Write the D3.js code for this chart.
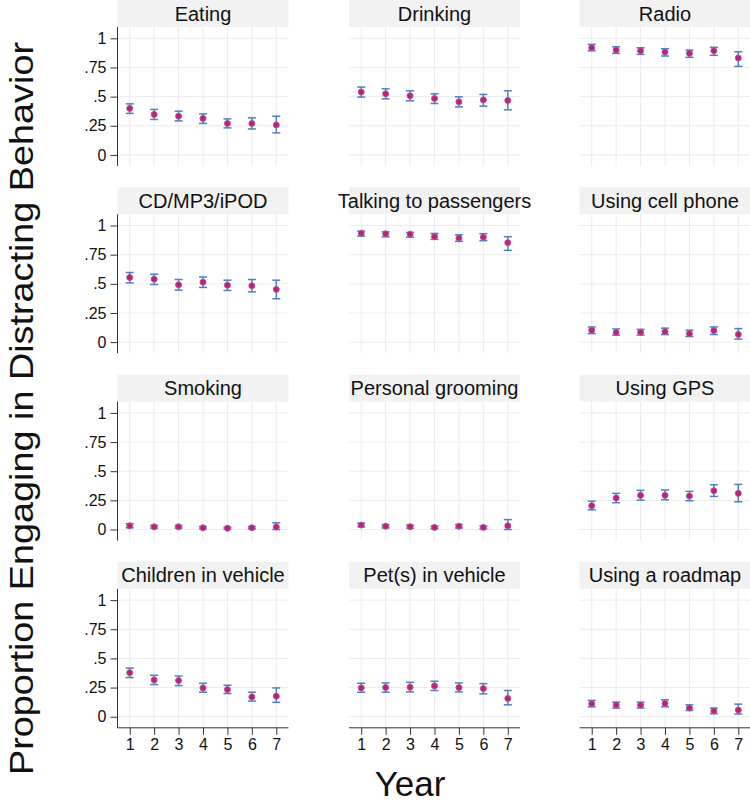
<!DOCTYPE html>
<html>
<head>
<meta charset="utf-8">
<script src="https://cdn.jsdelivr.net/npm/d3@7"></script>
<style>
  html, body { margin: 0; padding: 0; background: #fff; }
  svg { display: block; font-family: "Liberation Sans", Arial, Helvetica, sans-serif; }
</style>
</head>
<body>
<svg id="chart" width="750" height="804"></svg>
<script>
// ---- Data ----
const panels = ["Eating", "Drinking", "Radio",
                "CD/MP3/iPOD", "Talking to passengers", "Using cell phone",
                "Smoking", "Personal grooming", "Using GPS",
                "Children in vehicle", "Pet(s) in vehicle", "Using a roadmap"];
const years = [1, 2, 3, 4, 5, 6, 7];
const yTicks = [0, 0.25, 0.5, 0.75, 1];
const yTickLabels = ["0", ".25", ".5", ".75", "1"];

const estimate = [
  [0.399, 0.347, 0.332, 0.313, 0.270, 0.270, 0.257],
  [0.539, 0.524, 0.507, 0.484, 0.455, 0.472, 0.467],
  [0.919, 0.899, 0.893, 0.882, 0.871, 0.893, 0.831],
  [0.554, 0.540, 0.491, 0.514, 0.488, 0.483, 0.452],
  [0.934, 0.929, 0.926, 0.906, 0.892, 0.900, 0.853],
  [0.102, 0.082, 0.085, 0.090, 0.073, 0.099, 0.066],
  [0.032, 0.023, 0.023, 0.015, 0.011, 0.015, 0.022],
  [0.038, 0.028, 0.024, 0.018, 0.028, 0.018, 0.032],
  [0.204, 0.270, 0.293, 0.293, 0.287, 0.333, 0.310],
  [0.378, 0.315, 0.310, 0.247, 0.233, 0.170, 0.176],
  [0.247, 0.250, 0.253, 0.264, 0.250, 0.241, 0.157],
  [0.111, 0.100, 0.100, 0.114, 0.074, 0.049, 0.057]
];
const lower = [
  [0.356, 0.304, 0.292, 0.270, 0.232, 0.223, 0.189],
  [0.496, 0.481, 0.464, 0.441, 0.412, 0.418, 0.387],
  [0.893, 0.871, 0.862, 0.848, 0.837, 0.854, 0.759],
  [0.508, 0.494, 0.446, 0.469, 0.443, 0.431, 0.372],
  [0.909, 0.903, 0.900, 0.881, 0.864, 0.870, 0.787],
  [0.073, 0.060, 0.060, 0.065, 0.048, 0.065, 0.026],
  [0.015, 0.012, 0.012, 0.005, 0.004, 0.006, 0.000],
  [0.022, 0.014, 0.011, 0.007, 0.013, 0.006, 0.000],
  [0.169, 0.230, 0.252, 0.255, 0.247, 0.284, 0.238],
  [0.336, 0.276, 0.267, 0.210, 0.199, 0.134, 0.123],
  [0.210, 0.210, 0.213, 0.225, 0.213, 0.196, 0.102],
  [0.085, 0.074, 0.074, 0.085, 0.054, 0.026, 0.023]
];
const upper = [
  [0.438, 0.390, 0.375, 0.352, 0.309, 0.318, 0.332],
  [0.582, 0.567, 0.550, 0.524, 0.498, 0.519, 0.550],
  [0.948, 0.928, 0.919, 0.911, 0.899, 0.923, 0.885],
  [0.597, 0.582, 0.537, 0.559, 0.531, 0.537, 0.531],
  [0.951, 0.946, 0.940, 0.932, 0.921, 0.930, 0.904],
  [0.130, 0.113, 0.110, 0.120, 0.102, 0.130, 0.116],
  [0.050, 0.035, 0.035, 0.025, 0.020, 0.025, 0.058],
  [0.055, 0.042, 0.037, 0.030, 0.043, 0.030, 0.085],
  [0.243, 0.310, 0.336, 0.339, 0.327, 0.384, 0.387],
  [0.417, 0.355, 0.349, 0.287, 0.270, 0.210, 0.247],
  [0.287, 0.290, 0.295, 0.304, 0.290, 0.284, 0.225],
  [0.140, 0.125, 0.125, 0.145, 0.102, 0.074, 0.108]
];
const yTitle = "Proportion Engaging in Distracting Behavior";
const xTitle = "Year";

// ---- Layout ----
const svg = d3.select("#chart");
const colLeft = [117.5, 349, 579.5];
const panelW = 171;
const rowTop = [0, 187.2, 374.6, 561.8];
const headerH = 27;
const plotH = 139; // from header bottom to plot bottom

const gridColor = "#ececec";
const ciColor = "#4f7fbf";
const markerFill = "#c2206a";
const markerStroke = "#a65aa8";
const axisColor = "#333";

panels.forEach((name, i) => {
  const col = i % 3, row = Math.floor(i / 3);
  const x0 = colLeft[col], top = rowTop[row];
  const g = svg.append("g");

  const x = d3.scaleLinear().domain([0.5, 7.5]).range([x0, x0 + panelW]);
  const y = d3.scaleLinear().domain([-0.095, 1.097]).range([top + headerH + plotH, top + headerH]);

  // header strip
  g.append("rect").attr("x", x0).attr("y", top).attr("width", panelW).attr("height", headerH)
    .attr("fill", "#f2f2f2");
  g.append("text").attr("x", x0 + panelW / 2).attr("y", top + 20.5)
    .attr("text-anchor", "middle").attr("font-size", 20).attr("fill", "#111").text(name);

  // gridlines
  g.selectAll(".hg").data(yTicks).join("line")
    .attr("x1", x0).attr("x2", x0 + panelW)
    .attr("y1", d => y(d)).attr("y2", d => y(d))
    .attr("stroke", gridColor).attr("stroke-width", 1);
  g.selectAll(".vg").data(years).join("line")
    .attr("x1", d => x(d)).attr("x2", d => x(d))
    .attr("y1", top + headerH).attr("y2", top + headerH + plotH)
    .attr("stroke", gridColor).attr("stroke-width", 1);

  // y axis on left column
  if (col === 0) {
    const ya = d3.axisLeft(y).tickValues(yTicks).tickSize(7).tickPadding(4)
      .tickFormat((d, k) => yTickLabels[k]);
    const ag = g.append("g").attr("transform", `translate(${x0},0)`).call(ya);
    ag.select(".domain").attr("d", `M0,${top + headerH}V${top + headerH + plotH}`).attr("stroke", axisColor);
    ag.selectAll(".tick line").attr("stroke", axisColor);
    ag.selectAll(".tick text").attr("font-size", 16).attr("fill", "#111")
      .attr("font-family", "Liberation Sans, Arial, sans-serif");
  }
  // x axis on bottom row
  if (row === 3) {
    const xa = d3.axisBottom(x).tickValues(years).tickSize(7).tickPadding(4).tickFormat(d3.format("d"));
    const ag = g.append("g").attr("transform", `translate(0,${top + headerH + plotH})`).call(xa);
    ag.select(".domain").attr("d", `M${x0},0H${x0 + panelW}`).attr("stroke", axisColor);
    ag.selectAll(".tick line").attr("stroke", axisColor);
    ag.selectAll(".tick text").attr("font-size", 16).attr("fill", "#111")
      .attr("font-family", "Liberation Sans, Arial, sans-serif");
  }

  const pts = years.map((yr, k) => ({ yr, est: estimate[i][k], lo: lower[i][k], hi: upper[i][k] }));
  const cap = 4;
  const eb = g.append("g").attr("stroke", ciColor).attr("stroke-width", 1.5);
  eb.selectAll(".v").data(pts).join("line")
    .attr("x1", d => x(d.yr)).attr("x2", d => x(d.yr))
    .attr("y1", d => y(d.lo)).attr("y2", d => y(d.hi));
  eb.selectAll(".t").data(pts).join("line")
    .attr("x1", d => x(d.yr) - cap).attr("x2", d => x(d.yr) + cap)
    .attr("y1", d => y(d.hi)).attr("y2", d => y(d.hi));
  eb.selectAll(".b").data(pts).join("line")
    .attr("x1", d => x(d.yr) - cap).attr("x2", d => x(d.yr) + cap)
    .attr("y1", d => y(d.lo)).attr("y2", d => y(d.lo));

  g.selectAll(".pt").data(pts).join("circle")
    .attr("cx", d => x(d.yr)).attr("cy", d => y(d.est)).attr("r", 3)
    .attr("fill", markerFill).attr("stroke", markerStroke).attr("stroke-width", 1);
});

// axis titles
svg.append("text")
  .attr("transform", "translate(33,408.5) rotate(-90)")
  .attr("text-anchor", "middle")
  .attr("font-size", 34)
  .attr("textLength", 733).attr("lengthAdjust", "spacingAndGlyphs")
  .attr("fill", "#111")
  .text(yTitle);

svg.append("text")
  .attr("x", 410).attr("y", 796)
  .attr("text-anchor", "middle")
  .attr("font-size", 35)
  .attr("fill", "#111")
  .text(xTitle);
</script>
</body>
</html>
